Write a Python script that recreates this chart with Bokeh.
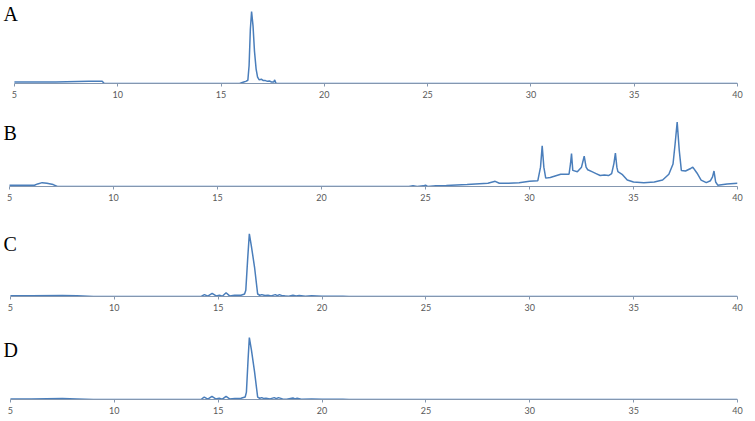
from bokeh.plotting import figure
from bokeh.layouts import column
from bokeh.models import Label, FixedTicker, Range1d
from bokeh.embed import file_html
from bokeh.resources import INLINE

# ---------------- data (retention time in min, normalised signal) ----------------
panel_names = ["A", "B", "C", "D"]
tick_values = [5, 10, 15, 20, 25, 30, 35, 40]

a_time = [5.0, 7.0, 8.6, 9.25, 9.35, 15.9, 16.0, 16.1, 16.2, 16.3, 16.36, 16.42,
          16.48, 16.55, 16.62, 16.7, 16.77, 16.85, 16.95, 17.05, 17.15, 17.25,
          17.35, 17.45, 17.55, 17.6, 17.65, 17.7, 40.0]
a_signal = [0.02, 0.02, 0.03, 0.03, 0.0, 0.0, 0.01, 0.02, 0.03, 0.045, 0.25, 0.75,
            1.0, 0.8, 0.45, 0.2, 0.09, 0.05, 0.06, 0.04, 0.04, 0.03,
            0.035, 0.02, 0.02, 0.05, 0.01, 0.0, 0.0]

b_time = [5.0, 6.2, 6.35, 6.57, 6.8, 7.1, 7.3, 7.45, 24.2, 24.4, 24.6, 24.9, 25.0,
          25.1, 25.5, 26.0, 27.0, 28.0, 28.35, 28.55, 29.0, 29.5, 30.0, 30.4,
          30.53, 30.61, 30.69, 30.78, 31.0, 31.5, 31.9, 31.97, 32.02, 32.08, 32.3,
          32.5, 32.63, 32.72, 32.8, 33.0, 33.2, 33.4, 33.6, 33.8, 33.95, 34.06,
          34.13, 34.2, 34.25, 34.45, 34.7, 35.0, 35.5, 36.0, 36.4, 36.7, 36.9,
          37.0, 37.1, 37.2, 37.3, 37.5, 37.75, 37.85, 38.05, 38.25, 38.5, 38.7,
          38.8, 38.87, 38.95, 39.05, 39.5, 40.0]
b_signal = [0.02, 0.02, 0.04, 0.06, 0.05, 0.03, 0.0, 0.0, 0.0, 0.01, 0.0, 0.01, 0.02,
            0.0, 0.01, 0.015, 0.03, 0.05, 0.08, 0.05, 0.05, 0.06, 0.08, 0.09,
            0.3, 0.63, 0.3, 0.13, 0.14, 0.19, 0.19, 0.35, 0.51, 0.25, 0.23,
            0.3, 0.47, 0.3, 0.26, 0.23, 0.2, 0.17, 0.18, 0.17, 0.2, 0.36,
            0.52, 0.3, 0.23, 0.19, 0.1, 0.07, 0.06, 0.07, 0.1, 0.19, 0.35,
            0.66, 1.0, 0.56, 0.25, 0.24, 0.28, 0.3, 0.21, 0.1, 0.06, 0.09,
            0.15, 0.24, 0.07, 0.02, 0.04, 0.05]

c_time = [5.0, 6.0, 7.5, 8.2, 9.0, 14.0, 14.2, 14.34, 14.5, 14.71, 14.9, 15.06,
          15.2, 15.38, 15.55, 15.79, 16.1, 16.27, 16.33, 16.42, 16.5, 16.6, 16.75,
          16.9, 17.0, 17.1, 17.25, 17.4, 17.55, 17.75, 17.85, 17.95, 18.1, 18.2,
          18.4, 18.6, 18.75, 18.9, 19.2, 19.5, 20.0, 21.0, 21.3, 40.0]
c_signal = [0.01, 0.01, 0.015, 0.01, 0.0, 0.0, 0.005, 0.03, 0.005, 0.05, 0.01, 0.02,
            0.005, 0.06, 0.01, 0.02, 0.02, 0.04, 0.1, 0.6, 1.0, 0.8, 0.47,
            0.04, 0.02, 0.03, 0.015, 0.02, 0.01, 0.03, 0.015, 0.03, 0.01, 0.01,
            0.005, 0.02, 0.01, 0.015, 0.005, 0.01, 0.005, 0.005, 0.0, 0.0]

d_time = [5.0, 6.0, 7.5, 8.2, 9.0, 14.0, 14.2, 14.33, 14.5, 14.7, 14.88, 15.05,
          15.2, 15.38, 15.55, 15.8, 16.1, 16.3, 16.36, 16.44, 16.5, 16.6, 16.75,
          16.9, 17.0, 17.1, 17.2, 17.3, 17.5, 17.7, 17.8, 17.9, 18.1, 18.3,
          18.6, 18.7, 18.8, 19.0, 19.5, 20.0, 21.0, 21.3, 40.0]
d_signal = [0.01, 0.01, 0.015, 0.01, 0.0, 0.0, 0.005, 0.04, 0.005, 0.05, 0.01, 0.02,
            0.005, 0.05, 0.01, 0.015, 0.02, 0.04, 0.12, 0.65, 1.0, 0.8, 0.45,
            0.04, 0.02, 0.03, 0.015, 0.02, 0.01, 0.03, 0.015, 0.03, 0.01, 0.005,
            0.025, 0.01, 0.02, 0.005, 0.01, 0.005, 0.005, 0.0, 0.0]

# ---------------- layout (pixels) ----------------
FIG_WIDTH = 755
# axis_left: pixel where the value 5 sits; right: right border width
layout_specs = [
    dict(height=101, axis_left=14, right=13, ytop=1.153, label_y=0.972),
    dict(height=103, axis_left=9, right=18, ytop=1.32, label_y=0.824),
    dict(height=110, axis_left=10, right=14, ytop=1.467, label_y=0.845),
    dict(height=103, axis_left=10, right=14, ytop=1.371, label_y=0.806),
]

series = [(a_time, a_signal), (b_time, b_signal), (c_time, c_signal), (d_time, d_signal)]

LINE_COLOR = "#4A7EBB"
AXIS_COLOR = "#8497B0"
X_MIN, X_MAX = 5, 40

figs = []
for name, (t, s), spec in zip(panel_names, series, layout_specs):
    frame_w = FIG_WIDTH - spec["right"]
    axis_px = frame_w - spec["axis_left"]
    px_per_unit = axis_px / (X_MAX - X_MIN)
    x_start = X_MIN - spec["axis_left"] / px_per_unit

    p = figure(width=FIG_WIDTH, height=spec["height"], output_backend="svg",
               toolbar_location=None, y_axis_location=None,
               x_range=Range1d(x_start, X_MAX), y_range=Range1d(0, spec["ytop"]),
               min_border_left=0, min_border_right=spec["right"],
               min_border_top=0, min_border_bottom=18)
    p.outline_line_color = None
    p.grid.visible = False
    p.background_fill_color = "white"
    p.border_fill_color = "white"
    p.line(t, s, line_color=LINE_COLOR, line_width=1.5)

    ax = p.xaxis[0]
    ax.bounds = (X_MIN, X_MAX)
    ax.ticker = FixedTicker(ticks=tick_values)
    ax.axis_line_color = AXIS_COLOR
    ax.axis_line_width = 1.2
    ax.major_tick_line_color = AXIS_COLOR
    ax.major_tick_out = 3
    ax.major_tick_in = 0
    ax.minor_tick_line_color = None
    ax.major_label_standoff = 4
    ax.major_label_text_font = "Lato"
    ax.major_label_text_font_size = "9px"
    ax.major_label_text_color = "#595959"

    lab = Label(x=x_start, y=spec["label_y"], x_offset=3, text=name,
                text_font="Liberation Serif", text_font_size="20px",
                text_color="black", text_align="left", text_baseline="middle")
    p.add_layout(lab)
    figs.append(p)

layout = column(*figs, spacing=0)

open("out.html", "w").write(file_html(layout, INLINE))
